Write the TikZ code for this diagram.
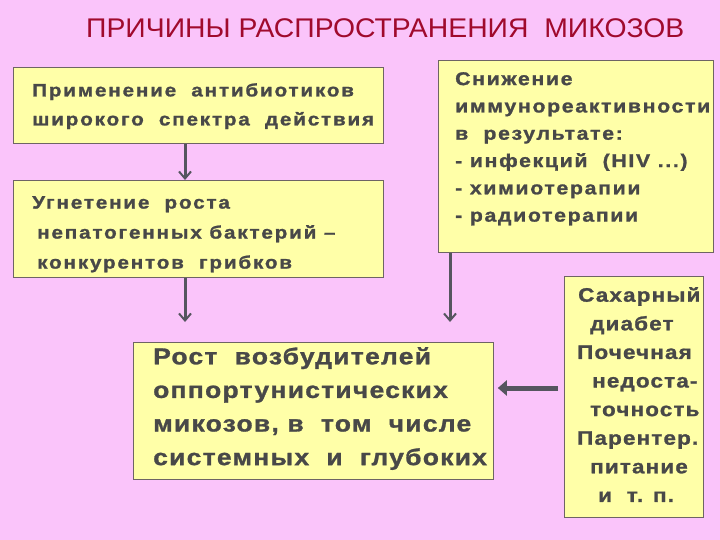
\documentclass[tikz,border=0pt]{standalone}
\usepackage{fontspec}
\setmainfont{Liberation Sans}
\newfontfamily\titlefont[FakeStretch=1.05]{Liberation Sans}
\newfontfamily\fontA[LetterSpace=10, FakeStretch=1.15, FakeBold=1.2]{Liberation Sans}
\newfontfamily\fontC[LetterSpace=9, FakeStretch=1.15, FakeBold=1.2]{Liberation Sans}
\newfontfamily\fontD[LetterSpace=5.5, FakeStretch=1.15, FakeBold=1.2]{Liberation Sans}
\newfontfamily\fontE[LetterSpace=6, FakeStretch=1.15, FakeBold=1.2]{Liberation Sans}
\usetikzlibrary{calc,arrows.meta}
\definecolor{bgpink}{RGB}{250,196,250}
\definecolor{boxfill}{RGB}{255,255,168}
\definecolor{boxline}{RGB}{110,100,100}
\definecolor{txtgray}{RGB}{72,72,72}
\definecolor{titlered}{RGB}{160,10,45}
\definecolor{arrowgray}{RGB}{85,85,95}
\tikzset{
  box/.style={draw=boxline, fill=boxfill, line width=0.8pt, inner sep=0pt, anchor=north west},
  boxtext/.style={anchor=north west, inner sep=0pt, align=left, text=txtgray},
  varrow/.style={draw=arrowgray, line width=3pt, -{Straight Barb[length=7pt, width=12pt, line width=2pt]}},
  harrow/.style={draw=arrowgray, line width=5pt, -{Triangle[length=9pt, width=15pt]}}
}
\begin{document}
\begin{tikzpicture}[x=1pt, y=-1pt]
\fill[bgpink] (0,0) rectangle (720,540);
\useasboundingbox (0,0) rectangle (720,540);
\node[text=titlered, anchor=west, inner sep=0pt, font=\titlefont\fontsize{27}{30}\selectfont] (title) at (86,28) {ПРИЧИНЫ РАСПРОСТРАНЕНИЯ\ \ МИКОЗОВ};
\node[box, minimum width=370pt, minimum height=76pt] (b1) at (13,67) {};
\node[box, minimum width=370pt, minimum height=97pt] (b2) at (13,180) {};
\node[box, minimum width=275pt, minimum height=192pt] (b3) at (438,60) {};
\node[box, minimum width=360pt, minimum height=137pt] (b4) at (133,342) {};
\node[box, minimum width=139pt, minimum height=241pt] (b5) at (564,276) {};
\node[boxtext, font=\fontA\bfseries\fontsize{18}{29}\selectfont] (t1) at (32,83)
  {Применение\ \ антибиотиков\\широкого\ \ спектра\ \ действия};
\node[boxtext, font=\fontA\bfseries\fontsize{18}{30}\selectfont] (t2) at (32,196)
  {Угнетение\ \ роста\\\hspace*{5pt}непатогенных бактерий –\\\hspace*{5pt}конкурентов\ \ грибков};
\node[boxtext, font=\fontC\bfseries\fontsize{18.5}{27.3}\selectfont] (t3) at (455,72)
  {Снижение\\иммунореактивности\\в\ \ результате:\\- инфекций\ \ (HIV ...)\\- химиотерапии\\- радиотерапии};
\node[boxtext, font=\fontD\bfseries\fontsize{23}{33.6}\selectfont] (t4) at (153,347)
  {Рост\ \ возбудителей\\оппортунистических\\микозов, в\ \ том\ \ числе\\системных\ \ и\ \ глубоких};
\node[boxtext, font=\fontE\bfseries\fontsize{19.5}{28.6}\selectfont] (t5) at (577,287)
  {\hspace*{1pt}Сахарный\\\hspace*{13pt}диабет\\Почечная\\\hspace*{15pt}недоста-\\\hspace*{13pt}точность\\Парентер.\\\hspace*{13pt}питание\\\hspace*{21pt}и\ \ т. п.};
\draw[varrow] (b1.south -| 185,0) -- (b2.north -| 185,0);
\draw[varrow, shorten >=20pt] (b2.south -| 185,0) -- (b4.north -| 185,0);
\draw[varrow, shorten >=20pt] (b3.south -| 450,0) -- (b4.north -| 450,0);
\draw[harrow, shorten <=6pt, shorten >=4pt] (b5.west |- 0,388) -- (b4.east |- 0,388);
\end{tikzpicture}
\end{document}
